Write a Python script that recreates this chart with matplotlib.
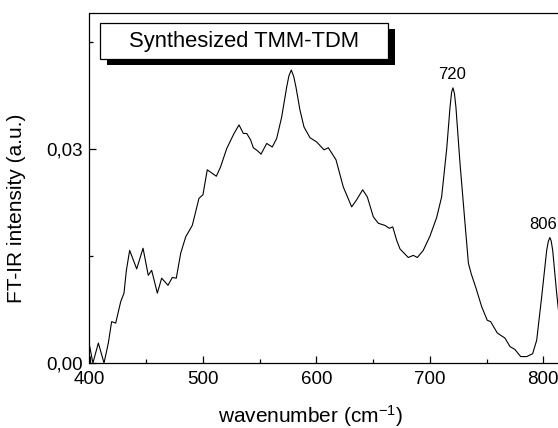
"""FT-IR spectrum of synthesized TMM-TDM."""

import matplotlib

matplotlib.use("Agg")
import matplotlib.pyplot as plt
from matplotlib.patches import Rectangle
from matplotlib.ticker import FuncFormatter, MultipleLocator

wavenumber = [
    400.2, 403.0, 407.8, 412.8, 416.6, 419.5, 423.1, 427.5, 430.4, 432.5,
    435.4, 441.6, 447.2, 451.8, 454.8, 459.8, 463.6, 469.2, 473.0, 476.5,
    480.4, 484.8, 490.6, 496.5, 500.0, 503.8, 511.8, 515.5, 521.0, 527.4,
    531.8, 535.6, 538.6, 542.0, 544.4, 547.9, 551.2, 556.2, 561.1, 565.0,
    569.4, 573.8, 575.8, 577.9, 580.0, 582.0, 585.5, 589.1, 594.4, 600.3,
    606.7, 610.5, 617.3, 623.7, 631.1, 635.5, 640.8, 644.9, 650.2, 654.6,
    660.5, 664.3, 667.3, 670.8, 673.7, 681.0, 685.4, 689.0, 694.2, 700.1,
    706.0, 710.4, 714.9, 717.8, 719.2, 720.4, 721.7, 723.0, 726.6, 731.0,
    734.0, 736.5, 740.7, 745.7, 750.6, 753.6, 759.5, 766.2, 770.7, 775.0,
    780.1, 785.4, 790.6, 794.2, 798.6, 803.0, 804.5, 805.8, 807.0, 808.3,
    811.8, 815.0, 820.0,
]
intensity = [
    0.0023, 0.0000, 0.0028, 0.0000, 0.0028, 0.0058, 0.0056, 0.0086, 0.0098, 0.0130,
    0.0158, 0.0132, 0.0161, 0.0123, 0.0130, 0.0098, 0.0119, 0.0109, 0.0120, 0.0119,
    0.0154, 0.0177, 0.0193, 0.0231, 0.0236, 0.0271, 0.0262, 0.0275, 0.0301, 0.0322,
    0.0334, 0.0322, 0.0322, 0.0313, 0.0302, 0.0298, 0.0293, 0.0308, 0.0303, 0.0315,
    0.0345, 0.0387, 0.0403, 0.0411, 0.0402, 0.0387, 0.0355, 0.0331, 0.0316, 0.0310,
    0.0299, 0.0302, 0.0285, 0.0247, 0.0219, 0.0229, 0.0243, 0.0233, 0.0205, 0.0196,
    0.0193, 0.0189, 0.0191, 0.0172, 0.0160, 0.0148, 0.0151, 0.0148, 0.0158, 0.0178,
    0.0204, 0.0233, 0.0301, 0.0359, 0.0380, 0.0386, 0.0378, 0.0359, 0.0280, 0.0196,
    0.0140, 0.0125, 0.0105, 0.0079, 0.0060, 0.0058, 0.0042, 0.0035, 0.0023, 0.0019,
    0.0009, 0.0009, 0.0013, 0.0032, 0.0093, 0.0158, 0.0171, 0.0176, 0.0171, 0.0158,
    0.0098, 0.0050, 0.0020,
]
peak_positions = [720, 806]
peak_heights = [0.0386, 0.0176]
peak_labels = ["720", "806"]
title_text = "Synthesized TMM-TDM"

plt.rcParams["font.family"] = ["Liberation Sans", "DejaVu Sans"]
plt.rcParams["mathtext.default"] = "regular"

W, H = 558, 428
fig = plt.figure(figsize=(W / 100, H / 100), dpi=100)
# axes run past the right edge of the canvas, as in the cropped original
ax = fig.add_axes([89.5 / W, 65 / H, 510.5 / W, 350 / H])

ax.plot(wavenumber, intensity, color="black", linewidth=0.8)
for xp, yp, lab in zip(peak_positions, peak_heights, peak_labels):
    # the 806 label sits at the canvas edge; nudge it left so it stays whole
    dx = -5 if xp > 800 else 0
    ax.annotate(lab, (xp, yp), xytext=(dx, 4), textcoords="offset points",
                ha="center", va="bottom", fontsize=12)

ax.set_xlim(400, 850)
ax.set_ylim(0, 0.0491)
ax.xaxis.set_major_locator(MultipleLocator(100))
ax.xaxis.set_minor_locator(MultipleLocator(50))
ax.yaxis.set_major_locator(MultipleLocator(0.03))
ax.yaxis.set_minor_locator(MultipleLocator(0.015))
ax.yaxis.set_major_formatter(FuncFormatter(lambda v, _: f"{v:.2f}".replace(".", ",")))
ax.tick_params(which="both", direction="in", top=False, right=False, width=0.9)
ax.tick_params(which="major", length=5, labelsize=13.5)
ax.tick_params(axis="x", which="major", pad=6)
ax.tick_params(axis="y", which="major", pad=5)
ax.tick_params(which="minor", length=2.7)
for spine in ax.spines.values():
    spine.set_linewidth(0.9)

ax.set_xlabel(r"wavenumber (cm$^{-1}$)", fontsize=15, va="center")
ax.xaxis.set_label_coords(311 / W, 1 - 416 / H, transform=fig.transFigure)
ax.set_ylabel("FT-IR intensity (a.u.)", fontsize=15, va="center")
ax.yaxis.set_label_coords(17 / W, 1 - 208 / H, transform=fig.transFigure)

# Origin-style title box with drop shadow
bx0, bx1, by0, by1 = 99.5, 388, 23, 59
shadow = Rectangle(((bx0 + 7) / W, 1 - (by1 + 6) / H), (bx1 - bx0) / W, (by1 - by0) / H,
                   transform=fig.transFigure, facecolor="black", edgecolor="none")
box = Rectangle((bx0 / W, 1 - by1 / H), (bx1 - bx0) / W, (by1 - by0) / H,
                transform=fig.transFigure, facecolor="white", edgecolor="black", linewidth=0.9)
fig.add_artist(shadow)
fig.add_artist(box)
fig.text((bx0 + bx1) / 2 / W, 1 - (by0 + by1) / 2 / H, title_text,
         ha="center", va="center", fontsize=15.8)

fig.savefig("out.png", dpi=100)
plt.close(fig)
